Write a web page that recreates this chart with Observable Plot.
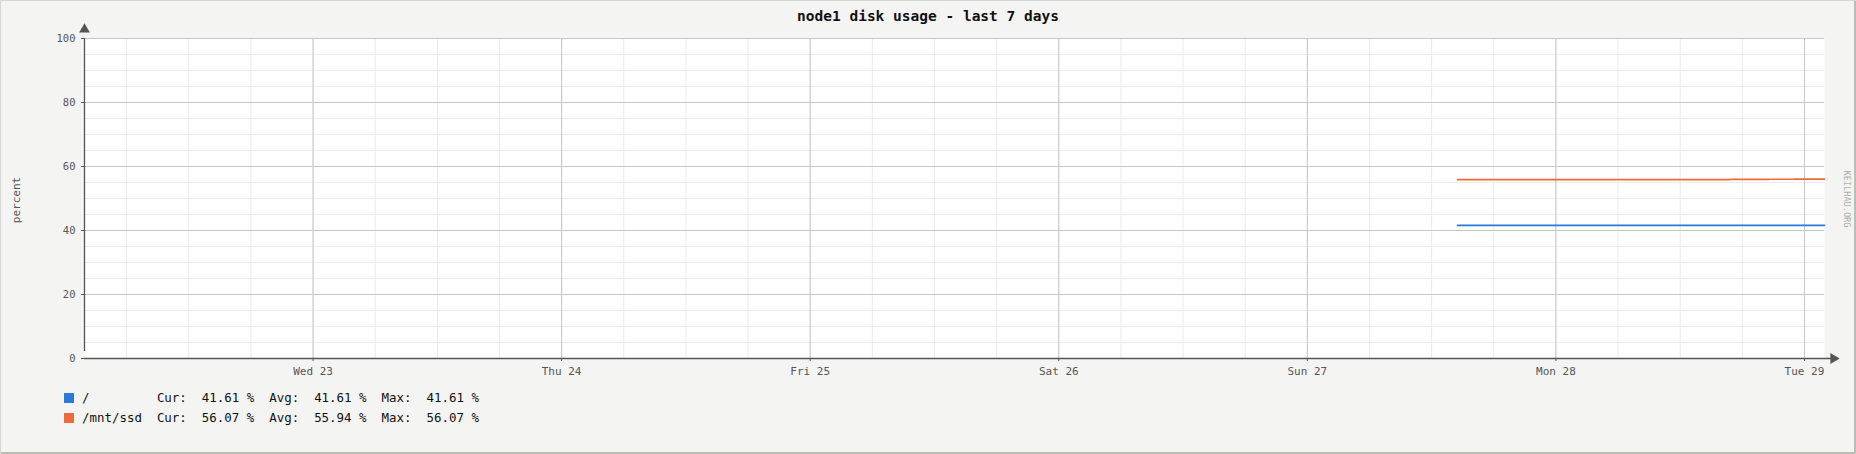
<!DOCTYPE html>
<html>
<head>
<meta charset="utf-8">
<script src="https://cdn.jsdelivr.net/npm/d3@7"></script>
<script src="https://cdn.jsdelivr.net/npm/@observablehq/plot@0.6"></script>
<style>
  html, body { margin: 0; padding: 0; background: #f4f4f2; }
  #wrap { position: relative; width: 1856px; height: 454px; background: #f4f4f2; overflow: hidden;
          box-shadow: inset 1px 1px 0 #d6d6d4, inset -2px -2px 0 #bdbdb8; }
  #chart { position: absolute; left: 0; top: 0; }
  .title { position: absolute; left: 0; width: 1856px; top: 8px; text-align: center;
           font: bold 14.5px "DejaVu Sans Mono", monospace; color: #111; }
  .ylab { position: absolute; left: 16px; top: 200px; transform: translate(-50%, -50%) rotate(-90deg);
          font: 11px "DejaVu Sans Mono", monospace; color: #555; white-space: nowrap; }
  .wm { position: absolute; left: 1847px; top: 199px; transform: translate(-50%, -50%) rotate(90deg);
        font: 8.6px "DejaVu Sans Mono", monospace; color: #b0b0b0; white-space: nowrap; }
  .leg { position: absolute; left: 64px; font: 12.45px "DejaVu Sans Mono", monospace; color: #111; white-space: pre; }
  .leg .sw { position: absolute; left: 0; top: 3px; width: 10px; height: 10px; }
  .leg .tx { position: absolute; left: 18px; top: 0; }
</style>
</head>
<body>
<div id="wrap">
  <div class="title">node1 disk usage - last 7 days</div>
  <div class="ylab">percent</div>
  <div class="wm">KEILHAU.ORG</div>
  <div id="chart"></div>
  <div id="legend"></div>
</div>
<script>
// ---- data ----
const rangeStart = "2023-08-22T01:56Z";
const rangeEnd = "2023-08-29T01:56Z";
const dayTicks = ["2023-08-23", "2023-08-24", "2023-08-25", "2023-08-26", "2023-08-27", "2023-08-28", "2023-08-29"];
const yTicks = [0, 20, 40, 60, 80, 100];
const seriesNames = ["/", "/mnt/ssd"];
const seriesColors = ["#2a7bd8", "#ee6a3b"];
const rootTimes = ["2023-08-27T14:30Z", "2023-08-28T00:00Z", "2023-08-28T12:00Z", "2023-08-29T01:56Z"];
const rootValues = [41.61, 41.61, 41.61, 41.61];
const ssdTimes = ["2023-08-27T14:30Z", "2023-08-28T02:20Z", "2023-08-28T10:00Z", "2023-08-28T16:50Z", "2023-08-28T20:30Z", "2023-08-28T23:00Z", "2023-08-29T01:56Z"];
const ssdValues = [55.90, 55.91, 55.92, 55.95, 56.02, 56.07, 56.07];
const legendStats = [
  {cur: "41.61", avg: "41.61", max: "41.61"},
  {cur: "56.07", avg: "55.94", max: "56.07"}
];

// ---- build ----
const start = new Date(rangeStart), end = new Date(rangeEnd);
const days = dayTicks.map(d => new Date(d + "T00:00Z"));
const minorX = d3.utcHour.every(6).range(start, end);
const minorY = d3.range(0, 101, 5);
const rootData = rootTimes.map((t, i) => ({t: new Date(t), v: rootValues[i]}));
const ssdData = ssdTimes.map((t, i) => ({t: new Date(t), v: ssdValues[i]}));
const axisColor = "#555";

const chart = Plot.plot({
  width: 1856, height: 454,
  marginLeft: 84, marginRight: 32, marginTop: 38, marginBottom: 96,
  style: {background: "transparent", fontFamily: "DejaVu Sans Mono, monospace", color: axisColor},
  x: {type: "utc", domain: [start, end]},
  y: {domain: [0, 100]},
  marks: [
    Plot.frame({fill: "white", stroke: null}),
    Plot.ruleX(minorX, {stroke: "#ebebeb", strokeWidth: 1}),
    Plot.ruleY(minorY, {stroke: "#ebebeb", strokeWidth: 1}),
    Plot.ruleX(days, {stroke: "#c6c6c6", strokeWidth: 1}),
    Plot.ruleY(yTicks, {stroke: "#c6c6c6", strokeWidth: 1}),
    Plot.line(rootData, {x: "t", y: "v", stroke: seriesColors[0], strokeWidth: 1.7, curve: "step-after"}),
    Plot.line(ssdData, {x: "t", y: "v", stroke: seriesColors[1], strokeWidth: 1.7, curve: "step-after"}),
    Plot.axisY({ticks: yTicks, tickSize: 3, tickPadding: 6, fontSize: 10.5, label: null, stroke: axisColor, fill: axisColor}),
    Plot.axisX({ticks: days, tickFormat: d3.utcFormat("%a %d"), tickSize: 3, tickPadding: 6, fontSize: 11, label: null, stroke: axisColor, fill: axisColor}),
    Plot.ruleX([start], {y1: 0, y2: 100, stroke: axisColor, strokeWidth: 1.3, insetTop: -7}),
    Plot.ruleY([0], {x1: start, x2: end, stroke: axisColor, strokeWidth: 1.3, insetRight: -7}),
    Plot.dot([{t: start, v: 100}], {x: "t", y: "v", symbol: "triangle", r: 4, dy: -9, fill: axisColor, stroke: null}),
    Plot.dot([{t: end, v: 0}], {x: "t", y: "v", symbol: "triangle", r: 4, dx: 9, rotate: 90, fill: axisColor, stroke: null})
  ]
});
document.getElementById("chart").appendChild(chart);

// ---- legend ----
const legend = document.getElementById("legend");
const pad = (s, n) => s + " ".repeat(Math.max(0, n - s.length));
seriesNames.forEach((name, i) => {
  const row = document.createElement("div");
  row.className = "leg";
  row.style.top = (390 + i * 20) + "px";
  const s = legendStats[i];
  row.innerHTML = `<span class="sw" style="background:${seriesColors[i]}"></span>` +
    `<span class="tx">${pad(name, 10)}Cur:  ${s.cur} %  Avg:  ${s.avg} %  Max:  ${s.max} %</span>`;
  legend.appendChild(row);
});
</script>
</body>
</html>
